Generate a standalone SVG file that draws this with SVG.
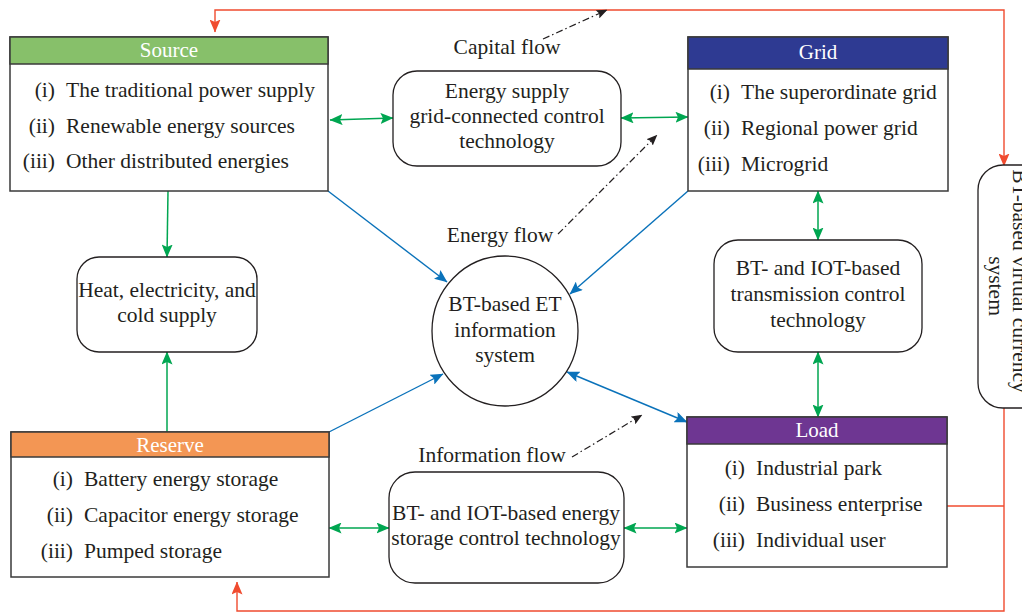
<svg xmlns="http://www.w3.org/2000/svg" width="1022" height="614" viewBox="0 0 1022 614">
<defs>
<style>
text{font-family:"Liberation Serif","Times New Roman",serif;fill:#231F20;font-size:21.5px}
.hd{fill:#fff;text-anchor:middle;font-size:21px}
.c{text-anchor:middle}
.n{text-anchor:end}
.box{fill:#fff;stroke:#3a3a3a;stroke-width:1.5}
.rbox{fill:#fff;stroke:#231F20;stroke-width:1.3}
.g{stroke:#00A651;stroke-width:1.5;fill:none}
.b{stroke:#0A72BA;stroke-width:1.4;fill:none}
.r{stroke:#F04B2F;stroke-width:1.4;fill:none}
.d{stroke:#231F20;stroke-width:1.2;fill:none;stroke-dasharray:7 3 1.5 3}
</style>
<marker id="ag" viewBox="0 0 13 11" refX="12.5" refY="5.5" markerWidth="13" markerHeight="11" markerUnits="userSpaceOnUse" orient="auto-start-reverse"><path d="M0,0 L13,5.5 L0,11 L2.5,5.5 z" fill="#00A651"/></marker>
<marker id="ab" viewBox="0 0 13 11" refX="12.5" refY="5.5" markerWidth="13" markerHeight="11" markerUnits="userSpaceOnUse" orient="auto-start-reverse"><path d="M0,0 L13,5.5 L0,11 L2.5,5.5 z" fill="#0A72BA"/></marker>
<marker id="ar" viewBox="0 0 13 11" refX="12.5" refY="5.5" markerWidth="13" markerHeight="11" markerUnits="userSpaceOnUse" orient="auto-start-reverse"><path d="M0,0 L13,5.5 L0,11 L2.5,5.5 z" fill="#F04B2F"/></marker>
<marker id="ak" viewBox="0 0 11 9" refX="10.5" refY="4.5" markerWidth="11" markerHeight="9" markerUnits="userSpaceOnUse" orient="auto"><path d="M0,0 L11,4.5 L0,9 L2,4.5 z" fill="#231F20"/></marker>
</defs>

<g id="connectors">
<path class="r" d="M215,32 L215,10 L1004,10 L1004,166" marker-start="url(#ar)" marker-end="url(#ar)"/>
<path class="r" d="M1004,408 L1004,611 L237,611 L237,582" marker-end="url(#ar)"/>
<path class="r" d="M947,506 L1004,506"/>
<line class="g" x1="330" y1="120" x2="393" y2="118" marker-start="url(#ag)" marker-end="url(#ag)"/>
<line class="g" x1="621" y1="118" x2="688" y2="117" marker-start="url(#ag)" marker-end="url(#ag)"/>
<line class="g" x1="168" y1="191" x2="167" y2="257" marker-end="url(#ag)"/>
<line class="g" x1="167" y1="432" x2="167" y2="352" marker-end="url(#ag)"/>
<line class="g" x1="818" y1="191" x2="818" y2="240" marker-start="url(#ag)" marker-end="url(#ag)"/>
<line class="g" x1="818" y1="352" x2="818" y2="417" marker-start="url(#ag)" marker-end="url(#ag)"/>
<line class="g" x1="329" y1="528" x2="389" y2="528" marker-start="url(#ag)" marker-end="url(#ag)"/>
<line class="g" x1="624" y1="528" x2="687" y2="528" marker-start="url(#ag)" marker-end="url(#ag)"/>
<line class="b" x1="328" y1="191" x2="447" y2="282" marker-end="url(#ab)"/>
<line class="b" x1="688" y1="191" x2="570" y2="294" marker-end="url(#ab)"/>
<line class="b" x1="329" y1="432" x2="443" y2="374" marker-end="url(#ab)"/>
<line class="b" x1="567" y1="372" x2="687" y2="422" marker-start="url(#ab)" marker-end="url(#ab)"/>
<line class="d" x1="543" y1="39" x2="607" y2="10" marker-end="url(#ak)"/>
<line class="d" x1="558" y1="234" x2="657" y2="135" marker-end="url(#ak)"/>
<line class="d" x1="572" y1="457" x2="642" y2="415" marker-end="url(#ak)"/>
</g>

<g id="labels">
<text class="c" x="507" y="54">Capital flow</text>
<text class="c" x="500" y="242">Energy flow</text>
<text class="c" x="492" y="462">Information flow</text>
</g>

<g id="source">
<rect class="box" x="10" y="37" width="318" height="154"/>
<rect x="10" y="37" width="318" height="27" fill="#87C06A" stroke="#3a3a3a" stroke-width="1.5"/>
<text class="hd" x="169" y="57">Source</text>
<text class="n" x="55" y="97">(i)</text><text x="66" y="97">The traditional power supply</text>
<text class="n" x="55" y="133">(ii)</text><text x="66" y="133">Renewable energy sources</text>
<text class="n" x="55" y="168">(iii)</text><text x="66" y="168">Other distributed energies</text>
</g>

<g id="grid">
<rect class="box" x="688" y="37" width="260" height="154"/>
<rect x="688" y="37" width="260" height="32" fill="#2E3A92" stroke="#3a3a3a" stroke-width="1.5"/>
<text class="hd" x="818" y="59">Grid</text>
<text class="n" x="730" y="99">(i)</text><text x="741" y="99">The superordinate grid</text>
<text class="n" x="730" y="135">(ii)</text><text x="741" y="135">Regional power grid</text>
<text class="n" x="730" y="171">(iii)</text><text x="741" y="171">Microgrid</text>
</g>

<g id="energy-supply">
<rect class="rbox" x="393" y="71" width="228" height="95" rx="24"/>
<text class="c" x="507" y="98">Energy supply</text>
<text class="c" x="507" y="123">grid-connected control</text>
<text class="c" x="507" y="148">technology</text>
</g>

<g id="heat">
<rect class="rbox" x="77" y="257" width="180" height="95" rx="22"/>
<text class="c" x="167" y="297">Heat, electricity, and</text>
<text class="c" x="167" y="322">cold supply</text>
</g>

<g id="et-system">
<ellipse cx="505" cy="331" rx="73" ry="75" fill="#fff" stroke="#231F20" stroke-width="1.3"/>
<text class="c" x="505" y="311">BT-based ET</text>
<text class="c" x="505" y="337">information</text>
<text class="c" x="505" y="362">system</text>
</g>

<g id="transmission">
<rect class="rbox" x="714" y="240" width="208" height="112" rx="24"/>
<text class="c" x="818" y="275">BT- and IOT-based</text>
<text class="c" x="818" y="301">transmission control</text>
<text class="c" x="818" y="327">technology</text>
</g>

<g id="virtual-currency">
<rect class="rbox" x="978" y="165" width="80" height="243" rx="25"/>
<text class="c" transform="translate(1013,281) rotate(90)" x="0" y="0">BT-based virtual currency</text>
<text class="c" transform="translate(989,286) rotate(90)" x="0" y="0">system</text>
</g>

<g id="reserve">
<rect class="box" x="11" y="432" width="318" height="145"/>
<rect x="11" y="432" width="318" height="25" fill="#F39654" stroke="#3a3a3a" stroke-width="1.5"/>
<text class="hd" x="170" y="452">Reserve</text>
<text class="n" x="73" y="486">(i)</text><text x="84" y="486">Battery energy storage</text>
<text class="n" x="73" y="522">(ii)</text><text x="84" y="522">Capacitor energy storage</text>
<text class="n" x="73" y="558">(iii)</text><text x="84" y="558">Pumped storage</text>
</g>

<g id="storage">
<rect class="rbox" x="389" y="472" width="235" height="111" rx="26"/>
<text class="c" x="506" y="520">BT- and IOT-based energy</text>
<text class="c" x="506" y="545">storage control technology</text>
</g>

<g id="load">
<rect class="box" x="687" y="417" width="260" height="150"/>
<rect x="687" y="417" width="260" height="27" fill="#6E3692" stroke="#3a3a3a" stroke-width="1.5"/>
<text class="hd" x="817" y="437">Load</text>
<text class="n" x="745" y="475">(i)</text><text x="756" y="475">Industrial park</text>
<text class="n" x="745" y="511">(ii)</text><text x="756" y="511">Business enterprise</text>
<text class="n" x="745" y="547">(iii)</text><text x="756" y="547">Individual user</text>
</g>
</svg>
